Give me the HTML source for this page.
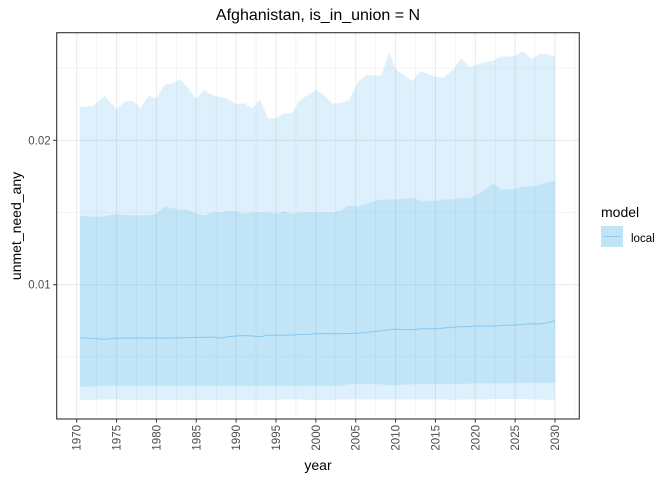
<!DOCTYPE html>
<html><head><meta charset="utf-8"><style>
body{margin:0;background:#fff;}
svg text{font-family:"Liberation Sans",Arial,sans-serif;}
</style></head><body>
<svg id="chart" width="672" height="480" viewBox="0 0 672 480" xmlns="http://www.w3.org/2000/svg">
<rect width="672" height="480" fill="#fff"/>
<g id="grid"></g>
<g id="marks"></g>
<rect x="56.7" y="32.7" width="522.6" height="386.3" fill="none" stroke="#333" stroke-width="1.1"/>
<g id="axes"></g>
<text x="318" y="20" text-anchor="middle" font-size="16" fill="#000">Afghanistan, is_in_union = N</text>
<text x="318" y="470" text-anchor="middle" font-size="14" fill="#000">year</text>
<text transform="translate(21,226) rotate(-90)" text-anchor="middle" font-size="14" fill="#000">unmet_need_any</text>
<g>
<text x="601" y="217" font-size="14" fill="#000">model</text>
<rect x="601" y="226" width="22" height="21" fill="#c2e4f7"/>
<line x1="603" y1="236.5" x2="621" y2="236.5" stroke="#8ecbec" stroke-width="1"/>
<text x="631" y="242" font-size="11.5" fill="#000">local</text>
</g>
</svg>
<script>
const years = [1970.4,1972,1973.5,1975,1976,1977,1978,1979,1980,1981,1982,1983,1984,1985,1986,1987,1988,1989,1990,1991,1992,1993,1994,1995,1996,1997,1998,1999,2000,2001,2002,2003,2004.2,2005.3,2006.3,2008.2,2009.2,2010,2012.1,2013.2,2015.1,2016,2017.2,2018.2,2019.3,2020.5,2022.2,2023.2,2024.7,2026,2027.1,2028,2028.9,2030];
const outerUpper = [0.02229,0.02237,0.02307,0.02215,0.02267,0.02274,0.02222,0.02307,0.02291,0.02383,0.02395,0.02422,0.0236,0.02286,0.02348,0.02314,0.02298,0.02286,0.02251,0.02256,0.02222,0.02279,0.02152,0.02152,0.02187,0.02187,0.02279,0.02314,0.02348,0.02314,0.02256,0.02256,0.02279,0.02406,0.02452,0.02448,0.02609,0.02492,0.02411,0.0248,0.02436,0.02436,0.02487,0.02568,0.02506,0.02533,0.0255,0.0258,0.0258,0.02618,0.0256,0.02598,0.02598,0.0258];
const innerUpper = [0.01476,0.0147,0.0147,0.0149,0.0148,0.0148,0.0148,0.0148,0.0149,0.0154,0.0153,0.0152,0.0152,0.0149,0.0148,0.0150,0.0150,0.0151,0.0151,0.0149,0.0150,0.0150,0.0150,0.0149,0.0151,0.0149,0.0150,0.0150,0.0150,0.0150,0.0150,0.0151,0.0155,0.0154,0.0156,0.0159,0.0159,0.0159,0.0160,0.0158,0.0158,0.0159,0.0159,0.0160,0.0160,0.0163,0.0170,0.0166,0.0166,0.0168,0.0168,0.0169,0.0171,0.01718];
const median = [0.00633,0.00628,0.00622,0.00630,0.00630,0.00630,0.00630,0.00630,0.00630,0.00630,0.00630,0.00632,0.00632,0.00635,0.00635,0.00638,0.00630,0.00640,0.00645,0.00648,0.00645,0.00640,0.00650,0.00650,0.00650,0.00652,0.00655,0.00655,0.00660,0.00662,0.00660,0.00660,0.00662,0.00665,0.00670,0.00680,0.00688,0.00691,0.00688,0.00695,0.00695,0.00700,0.00705,0.00710,0.00710,0.00715,0.00712,0.00718,0.00720,0.00725,0.00730,0.00728,0.00735,0.00749];
const innerLower = [0.00294,0.00295,0.00300,0.00300,0.00300,0.00300,0.00300,0.00300,0.00300,0.00300,0.00300,0.00300,0.00300,0.00300,0.00300,0.00300,0.00300,0.00300,0.00300,0.00300,0.00300,0.00300,0.00300,0.00300,0.00300,0.00300,0.00300,0.00300,0.00300,0.00300,0.00300,0.00300,0.00310,0.00310,0.00310,0.00310,0.00305,0.00305,0.00310,0.00310,0.00310,0.00310,0.00310,0.00315,0.00315,0.00318,0.00318,0.00318,0.00318,0.00320,0.00320,0.00320,0.00320,0.00321];
const outerLower = [0.00202,0.00202,0.00205,0.00205,0.00202,0.00202,0.00202,0.00202,0.00202,0.00202,0.00202,0.00202,0.00202,0.00202,0.00202,0.00202,0.00202,0.00202,0.00202,0.00202,0.00202,0.00202,0.00202,0.00202,0.00205,0.00205,0.00205,0.00202,0.00202,0.00202,0.00202,0.00205,0.00205,0.00208,0.00205,0.00205,0.00205,0.00205,0.00205,0.00205,0.00205,0.00205,0.00202,0.00205,0.00205,0.00205,0.00208,0.00208,0.00208,0.00208,0.00205,0.00205,0.00202,0.00205];
const xTicks = [1970,1975,1980,1985,1990,1995,2000,2005,2010,2015,2020,2025,2030];
const yTicks = [0.01,0.02];
const yMinor = [0.005,0.015,0.025];

const NS="http://www.w3.org/2000/svg";
const x = v => 76.7 + (v-1970)*(555-76.7)/60;
const y = v => 284.7 - (v-0.01)*14440;
const L=56.7,R=579.3,T=32.7,B=419;
function mk(tag, attrs, parent){const e=document.createElementNS(NS,tag);for(const k in attrs)e.setAttribute(k,attrs[k]);parent.appendChild(e);return e;}
const grid=document.getElementById('grid'), marks=document.getElementById('marks'), axes=document.getElementById('axes');
// minor x gridlines
for(let yr=1967.5; yr<=2032.5; yr+=2.5){
  const xv=x(yr); if(xv<L||xv>R) continue;
  const major = xTicks.includes(yr);
  const g=mk('line',{x1:xv,x2:xv,y1:T,y2:B,stroke:'#ebebeb','stroke-width':major?1.1:0.55},grid);
  
  
}
yMinor.forEach(v=>{const g=mk('line',{x1:L,x2:R,y1:y(v),y2:y(v),stroke:'#ebebeb','stroke-width':0.55},grid);
  
  });
yTicks.forEach(v=>{const g=mk('line',{x1:L,x2:R,y1:y(v),y2:y(v),stroke:'#ebebeb','stroke-width':1.1},grid);
  
  });
function band(up,lo){let d='';years.forEach((yr,i)=>{d+=(i?'L':'M')+x(yr).toFixed(1)+','+y(up[i]).toFixed(1);});
  for(let i=years.length-1;i>=0;i--)d+='L'+x(years[i]).toFixed(1)+','+y(lo[i]).toFixed(1);return d+'Z';}
const o=mk('path',{d:band(outerUpper,outerLower),fill:'rgba(86,180,233,0.2)'},marks);


const n=mk('path',{d:band(innerUpper,innerLower),fill:'rgba(86,180,233,0.2)'},marks);


const ln=mk('path',{d:years.map((yr,i)=>(i?'L':'M')+x(yr).toFixed(1)+','+y(median[i]).toFixed(1)).join(''),fill:'none',stroke:'rgba(86,180,233,0.55)','stroke-width':1},marks);


xTicks.forEach(v=>{
  const t=mk('line',{x1:x(v),x2:x(v),y1:B,y2:B+3.5,stroke:'#333','stroke-width':1},axes);
  
  
  const tx=mk('text',{transform:`translate(${x(v)+4},${B+6}) rotate(-90)`,'text-anchor':'end','font-size':11.5,fill:'#4d4d4d'},axes);
  tx.textContent=v;
  
  
});
yTicks.forEach(v=>{
  const t=mk('line',{x1:L-3.5,x2:L,y1:y(v),y2:y(v),stroke:'#333','stroke-width':1},axes);
  
  
  const tx=mk('text',{x:L-6,y:y(v)+4,'text-anchor':'end','font-size':11.5,fill:'#4d4d4d'},axes);
  tx.textContent=v.toFixed(2);
  
  
});
</script>
</body></html>
